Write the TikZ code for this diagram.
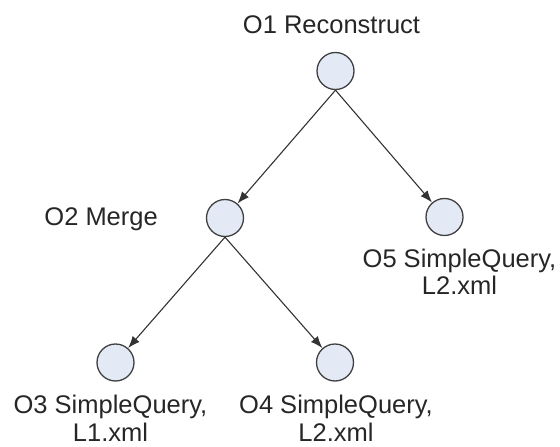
\documentclass[tikz,border=0pt]{standalone}
\usepackage{fontspec}
\setmainfont{Liberation Sans}
\usetikzlibrary{arrows.meta}
\definecolor{circfill}{HTML}{E3EAF6}
\definecolor{circline}{HTML}{404040}
\definecolor{edgeline}{HTML}{333333}
\tikzset{
  opnode/.style={circle, draw=circline, fill=circfill, line width=1.3pt, minimum size=37pt, inner sep=0pt},
  oplabel/.style={align=center, inner sep=0pt, anchor=north, font=\fontsize{25.5}{27.5}\selectfont, text=black!85},
  edge/.style={draw=edgeline, line width=1.1pt, -{Latex[length=12pt,width=9pt]}}
}
\begin{document}
\begin{tikzpicture}[x=1pt,y=-1pt]
\useasboundingbox (0,0) rectangle (560,447);
\node[opnode] (o1) at (335.5,71) {};
\node[opnode] (o2) at (225,218) {};
\node[opnode] (o5) at (444.5,217) {};
\node[opnode] (o3) at (115.5,362.5) {};
\node[opnode] (o4) at (335,362.5) {};
\node[oplabel] (l1) at (331.5,15.5) {O1 Reconstruct};
\node[oplabel, anchor=north east] (l2) at (158,207.5) {O2 Merge};
\node[oplabel] (l5) at (459.5,248.5) {O5 SimpleQuery,\\L2.xml};
\node[oplabel] (l3) at (110.5,395) {O3 SimpleQuery,\\L1.xml};
\node[oplabel] (l4) at (336,395) {O4 SimpleQuery,\\L2.xml};
\draw[edge] (o1.south) -- (o2);
\draw[edge] (o1.south) -- (o5);
\draw[edge] (o2.south) -- (o3);
\draw[edge] (o2.south) -- (o4);
\end{tikzpicture}
\end{document}
